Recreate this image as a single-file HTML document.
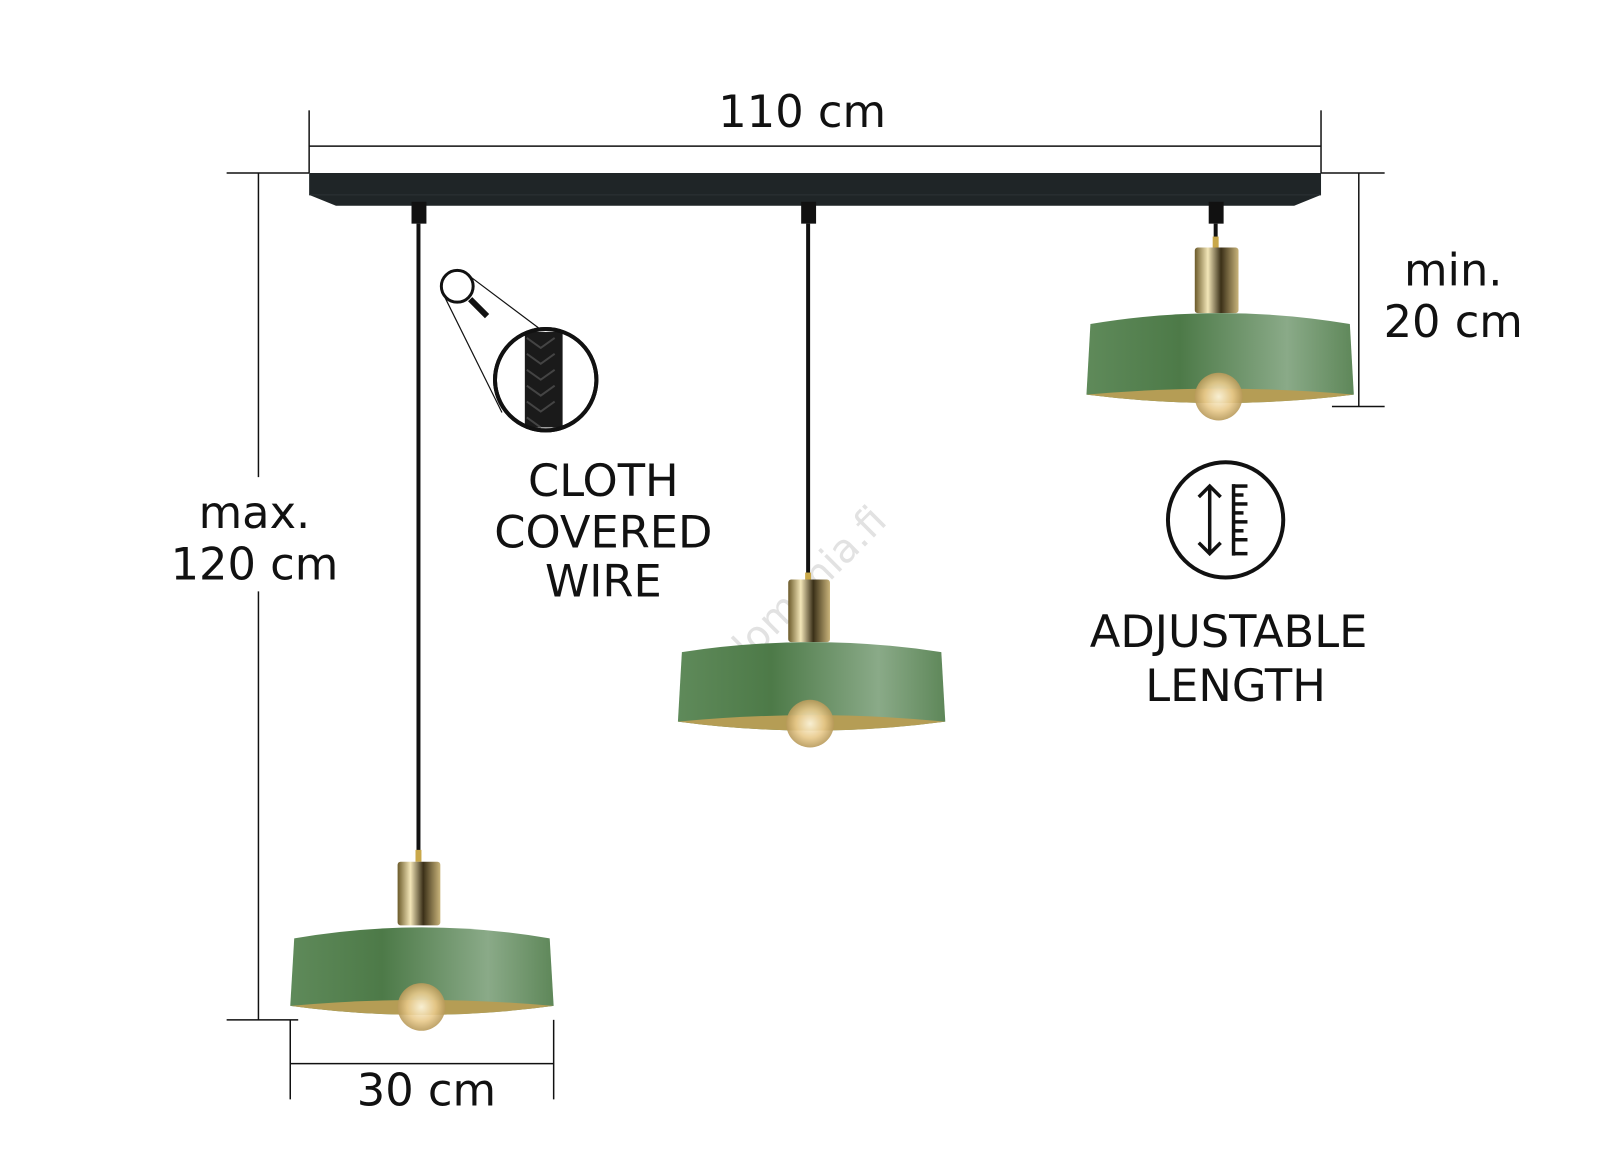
<!DOCTYPE html>
<html><head><meta charset="utf-8"><style>
html,body{margin:0;padding:0;background:#fff;}
svg{display:block;}
text{font-family:"DejaVu Sans","Liberation Sans",sans-serif;fill:#111;}
</style></head><body>
<svg width="1600" height="1170" viewBox="0 0 1600 1170" xmlns="http://www.w3.org/2000/svg">
<defs>
<linearGradient id="g" x1="0" x2="1" y1="0" y2="0">
<stop offset="0" stop-color="#5f8a5a"/><stop offset="0.35" stop-color="#4d7a48"/><stop offset="0.75" stop-color="#8aaa88"/><stop offset="1" stop-color="#5e8759"/>
</linearGradient>
<linearGradient id="gold" x1="0" x2="1">
<stop offset="0" stop-color="#6b5a2a"/><stop offset="0.3" stop-color="#f3e6b8"/><stop offset="0.6" stop-color="#3b3018"/><stop offset="1" stop-color="#c9b47a"/>
</linearGradient>
<radialGradient id="bulb"><stop offset="0" stop-color="#fff8e0"/><stop offset="0.6" stop-color="#e8c98a"/><stop offset="1" stop-color="#b89a5a"/></radialGradient>
</defs>
<g transform="scale(0.994)">
<g stroke="#111" stroke-width="1.5" fill="none">
<line x1="311" y1="111" x2="311" y2="174"/><line x1="1329" y1="111" x2="1329" y2="174"/>
<line x1="311" y1="147" x2="1329" y2="147"/>
<line x1="260" y1="174" x2="260" y2="480"/><line x1="260" y1="595" x2="260" y2="1026"/>
<line x1="228" y1="174" x2="311" y2="174"/><line x1="228" y1="1026" x2="300" y2="1026"/>
<line x1="292" y1="1026" x2="292" y2="1106"/><line x1="557" y1="1026" x2="557" y2="1106"/>
<line x1="292" y1="1070" x2="557" y2="1070"/>
<line x1="1367" y1="174" x2="1367" y2="409"/>
<line x1="1329" y1="174" x2="1393" y2="174"/><line x1="1340" y1="409" x2="1393" y2="409"/>
</g>
<text x="807" y="128" font-size="45" text-anchor="middle">110 cm</text>
<text x="256" y="531" font-size="45" text-anchor="middle">max.</text>
<text x="256" y="583" font-size="45" text-anchor="middle">120 cm</text>
<text x="429" y="1112" font-size="45" text-anchor="middle">30 cm</text>
<text x="1462" y="287" font-size="45" text-anchor="middle">min.</text>
<text x="1462" y="339" font-size="45" text-anchor="middle">20 cm</text>
<text x="607" y="499" font-size="45" text-anchor="middle">CLOTH</text>
<text x="607" y="551" font-size="45" text-anchor="middle">COVERED</text>
<text x="607" y="600" font-size="45" text-anchor="middle">WIRE</text>
<text x="1236" y="651" font-size="45" text-anchor="middle">ADJUSTABLE</text>
<text x="1243" y="705" font-size="45" text-anchor="middle">LENGTH</text>
<text x="0" y="0" font-size="40" style="fill:#e2e2e2" transform="translate(720,700) rotate(-45)">valomania.fi</text>
<polygon points="311,174 1329,174 1329,196 1302,207 338,207 311,196" fill="#1f2527"/>
<line x1="311" y1="196" x2="1329" y2="196" stroke="#2c3335" stroke-width="1"/>
<!-- lamp1 -->
<rect x="414" y="203" width="15" height="22" fill="#111"/>
<line x1="421" y1="225" x2="421" y2="860" stroke="#111" stroke-width="4"/>
<rect x="418" y="855" width="6" height="12" fill="#c9a84a"/>
<rect x="400" y="867" width="43" height="64" rx="3" fill="url(#gold)"/>
<path d="M296,944 Q424,922 553,944 L557,1012 Q424,1030 292,1012 Z" fill="url(#g)"/>
<path d="M292,1012 Q424,1000 557,1012 Q424,1030 292,1012 Z" fill="#b59d55"/>
<circle cx="424" cy="1013" r="24" fill="url(#bulb)" opacity="0.9"/>
<!-- lamp2 -->
<rect x="806" y="203" width="15" height="22" fill="#111"/>
<line x1="813" y1="225" x2="813" y2="585" stroke="#111" stroke-width="4"/>
<rect x="810" y="576" width="6" height="10" fill="#c9a84a"/>
<rect x="793" y="583" width="42" height="63" rx="3" fill="url(#gold)"/>
<path d="M686,656 Q816,636 947,656 L951,726 Q816,744 682,726 Z" fill="url(#g)"/>
<path d="M682,726 Q816,713 951,726 Q816,744 682,726 Z" fill="#b59d55"/>
<circle cx="815" cy="728" r="24" fill="url(#bulb)" opacity="0.9"/>
<!-- lamp3 -->
<rect x="1216" y="203" width="15" height="22" fill="#111"/>
<line x1="1223" y1="225" x2="1223" y2="245" stroke="#111" stroke-width="4"/>
<rect x="1220" y="238" width="6" height="12" fill="#c9a84a"/>
<rect x="1202" y="249" width="44" height="66" rx="3" fill="url(#gold)"/>
<path d="M1097,326 Q1228,304 1358,326 L1362,397 Q1228,414 1093,397 Z" fill="url(#g)"/>
<path d="M1093,397 Q1228,385 1362,397 Q1228,414 1093,397 Z" fill="#b59d55"/>
<circle cx="1226" cy="399" r="24" fill="url(#bulb)" opacity="0.9"/>
<!-- magnifier -->
<g stroke="#111" fill="none">
<circle cx="460" cy="288" r="16" stroke-width="3"/>
<line x1="473" y1="301" x2="490" y2="318" stroke-width="6"/>
<line x1="448" y1="300" x2="505" y2="415" stroke-width="1.2"/>
<line x1="474" y1="279" x2="578" y2="357" stroke-width="1.2"/>
</g>
<circle cx="549" cy="382" r="51" fill="#fff" stroke="#111" stroke-width="4"/>
<rect x="528" y="334" width="38" height="96" fill="#1a1a1a"/>
<g stroke="#444" stroke-width="2" fill="none">
<path d="M530,340 l14,10 l14,-10 M530,356 l14,10 l14,-10 M530,372 l14,10 l14,-10 M530,388 l14,10 l14,-10 M530,404 l14,10 l14,-10 M530,420 l14,10"/>
</g>
<circle cx="549" cy="382" r="51" fill="none" stroke="#111" stroke-width="4"/>
<!-- adjustable icon -->
<circle cx="1233" cy="523" r="58" fill="none" stroke="#111" stroke-width="4"/>
<g stroke="#111" stroke-width="3.5" fill="none">
<line x1="1217" y1="490" x2="1217" y2="556"/>
<polyline points="1206,500 1217,489 1228,500"/><polyline points="1206,546 1217,557 1228,546"/>
<line x1="1241" y1="487" x2="1241" y2="559"/>
<line x1="1241" y1="489" x2="1255" y2="489"/><line x1="1241" y1="498" x2="1251" y2="498"/>
<line x1="1241" y1="507" x2="1255" y2="507"/><line x1="1241" y1="516" x2="1251" y2="516"/>
<line x1="1241" y1="525" x2="1255" y2="525"/><line x1="1241" y1="534" x2="1251" y2="534"/>
<line x1="1241" y1="543" x2="1255" y2="543"/><line x1="1241" y1="557" x2="1255" y2="557"/>
</g>
</g>
</svg>
</body></html>
